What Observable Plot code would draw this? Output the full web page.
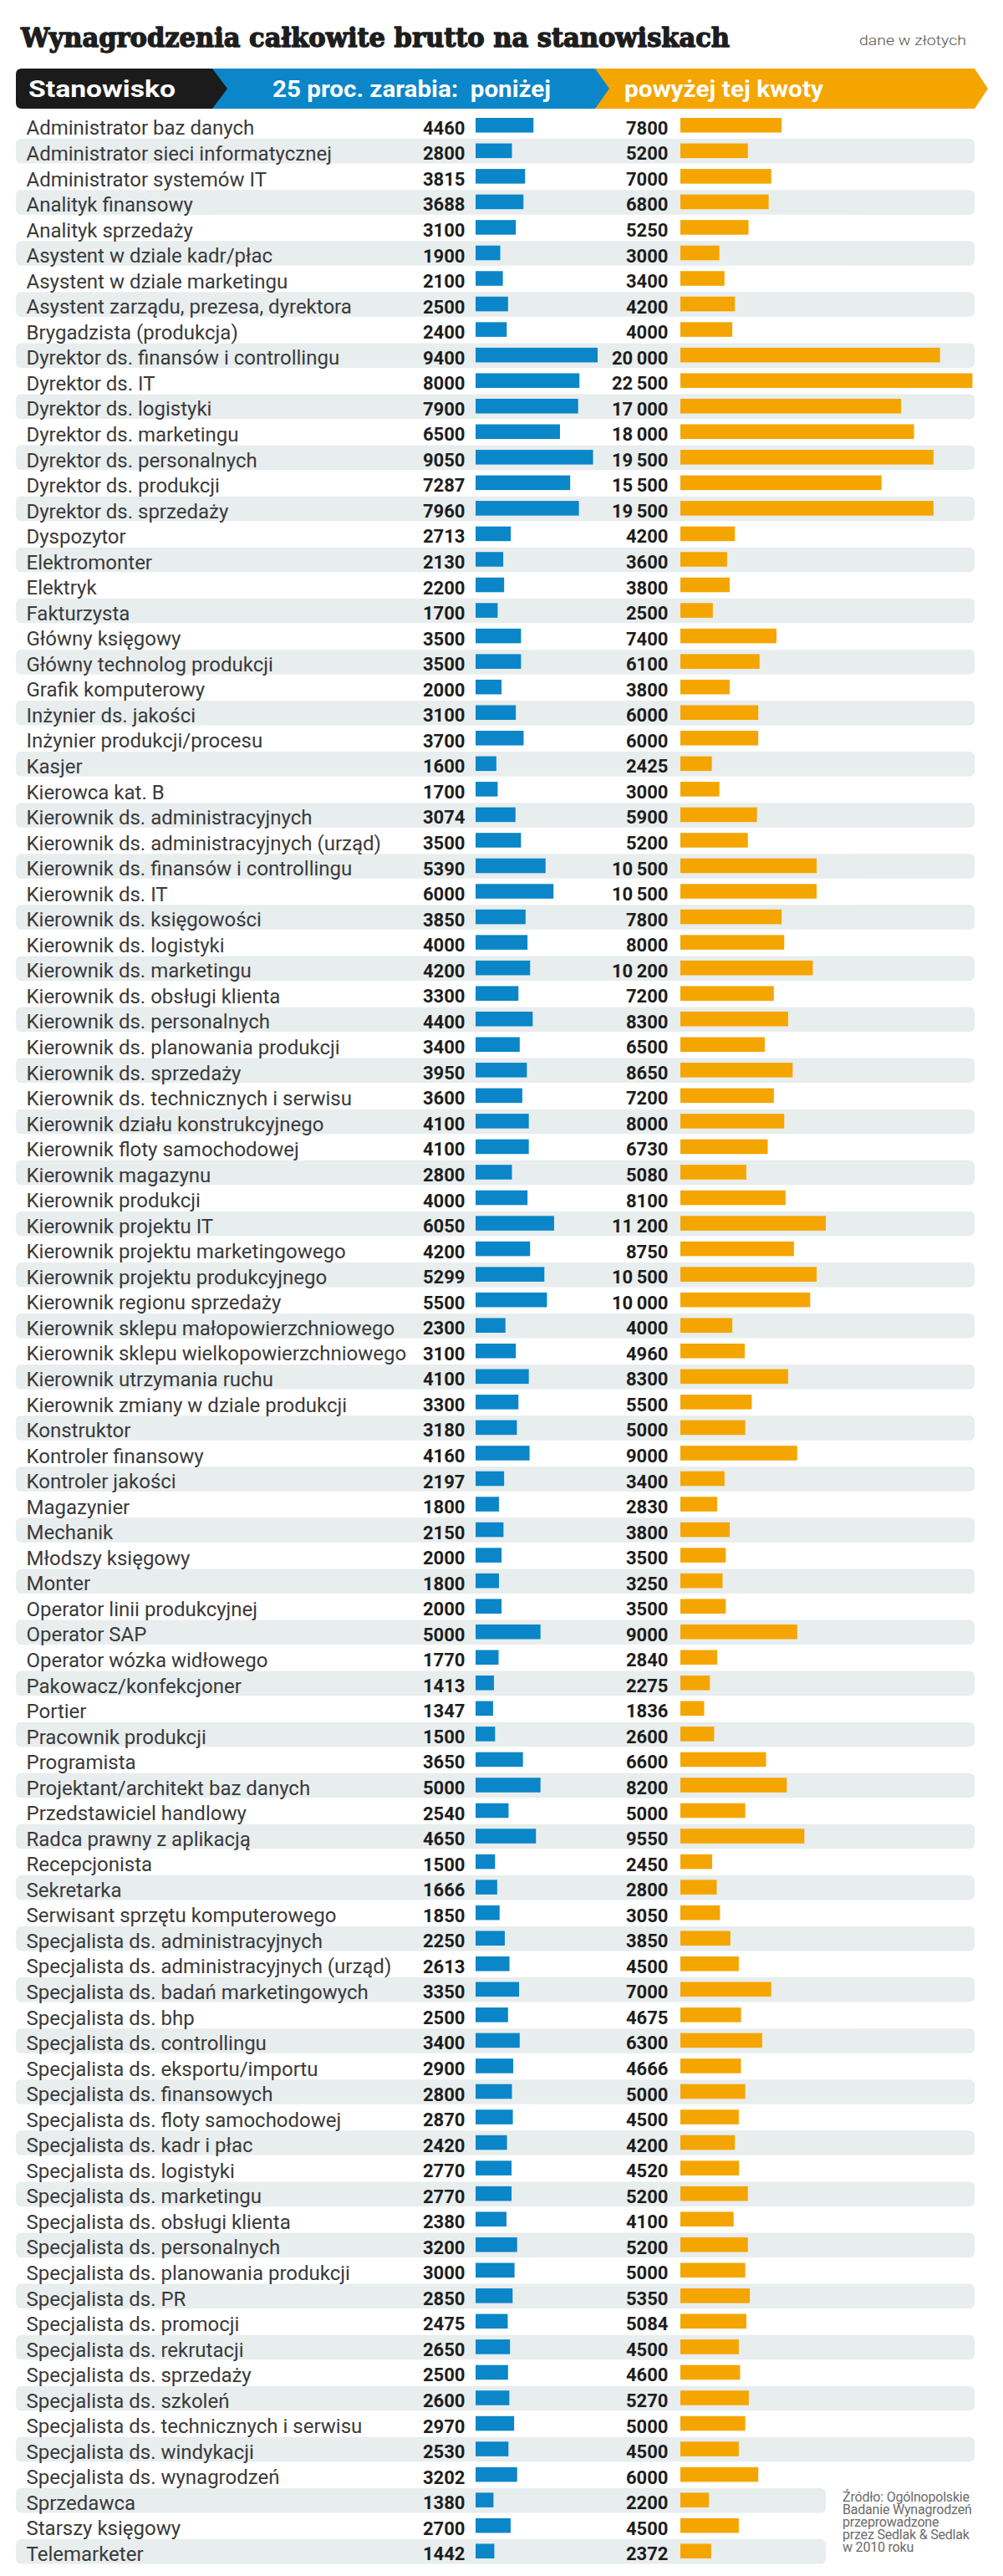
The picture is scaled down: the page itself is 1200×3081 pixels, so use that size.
<!DOCTYPE html>
<html>
<head>
<meta charset="utf-8">
<script src="https://cdn.jsdelivr.net/npm/d3@7"></script>
<script src="https://cdn.jsdelivr.net/npm/@observablehq/plot@0.6"></script>
<style>
  html, body { margin: 0; padding: 0; background: #fff; }
  #page { position: relative; width: 1200px; height: 3081px; overflow: hidden; }
  #head { position: absolute; left: 0; top: 0; }
  #chart { position: absolute; left: 0; top: 135px; }
  #src { position: absolute; left: 1008px; top: 2979px; font-family: Roboto, sans-serif; font-size: 16px; line-height: 15px; color: #6b6b6b; white-space: nowrap; letter-spacing: -0.2px; }
</style>
</head>
<body>
<div id="page">
  <div id="head"></div>
  <div id="chart"></div>
  <div id="src"></div>
</div>
<script>
// ---- data ----
const title = "Wynagrodzenia całkowite brutto na stanowiskach";
const unitNote = "dane w złotych";
const columnHeads = ["Stanowisko", "25 proc. zarabia:  poniżej", "powyżej tej kwoty"];
const sourceLines = ["Źródło: Ogólnopolskie", "Badanie Wynagrodzeń", "przeprowadzone", "przez Sedlak & Sedlak", "w 2010 roku"];

const names = [
  "Administrator baz danych",
  "Administrator sieci informatycznej",
  "Administrator systemów IT",
  "Analityk finansowy",
  "Analityk sprzedaży",
  "Asystent w dziale kadr/płac",
  "Asystent w dziale marketingu",
  "Asystent zarządu, prezesa, dyrektora",
  "Brygadzista (produkcja)",
  "Dyrektor ds. finansów i controllingu",
  "Dyrektor ds. IT",
  "Dyrektor ds. logistyki",
  "Dyrektor ds. marketingu",
  "Dyrektor ds. personalnych",
  "Dyrektor ds. produkcji",
  "Dyrektor ds. sprzedaży",
  "Dyspozytor",
  "Elektromonter",
  "Elektryk",
  "Fakturzysta",
  "Główny księgowy",
  "Główny technolog produkcji",
  "Grafik komputerowy",
  "Inżynier ds. jakości",
  "Inżynier produkcji/procesu",
  "Kasjer",
  "Kierowca kat. B",
  "Kierownik ds. administracyjnych",
  "Kierownik ds. administracyjnych (urząd)",
  "Kierownik ds. finansów i controllingu",
  "Kierownik ds. IT",
  "Kierownik ds. księgowości",
  "Kierownik ds. logistyki",
  "Kierownik ds. marketingu",
  "Kierownik ds. obsługi klienta",
  "Kierownik ds. personalnych",
  "Kierownik ds. planowania produkcji",
  "Kierownik ds. sprzedaży",
  "Kierownik ds. technicznych i serwisu",
  "Kierownik działu konstrukcyjnego",
  "Kierownik floty samochodowej",
  "Kierownik magazynu",
  "Kierownik produkcji",
  "Kierownik projektu IT",
  "Kierownik projektu marketingowego",
  "Kierownik projektu produkcyjnego",
  "Kierownik regionu sprzedaży",
  "Kierownik sklepu małopowierzchniowego",
  "Kierownik sklepu wielkopowierzchniowego",
  "Kierownik utrzymania ruchu",
  "Kierownik zmiany w dziale produkcji",
  "Konstruktor",
  "Kontroler finansowy",
  "Kontroler jakości",
  "Magazynier",
  "Mechanik",
  "Młodszy księgowy",
  "Monter",
  "Operator linii produkcyjnej",
  "Operator SAP",
  "Operator wózka widłowego",
  "Pakowacz/konfekcjoner",
  "Portier",
  "Pracownik produkcji",
  "Programista",
  "Projektant/architekt baz danych",
  "Przedstawiciel handlowy",
  "Radca prawny z aplikacją",
  "Recepcjonista",
  "Sekretarka",
  "Serwisant sprzętu komputerowego",
  "Specjalista ds. administracyjnych",
  "Specjalista ds. administracyjnych (urząd)",
  "Specjalista ds. badań marketingowych",
  "Specjalista ds. bhp",
  "Specjalista ds. controllingu",
  "Specjalista ds. eksportu/importu",
  "Specjalista ds. finansowych",
  "Specjalista ds. floty samochodowej",
  "Specjalista ds. kadr i płac",
  "Specjalista ds. logistyki",
  "Specjalista ds. marketingu",
  "Specjalista ds. obsługi klienta",
  "Specjalista ds. personalnych",
  "Specjalista ds. planowania produkcji",
  "Specjalista ds. PR",
  "Specjalista ds. promocji",
  "Specjalista ds. rekrutacji",
  "Specjalista ds. sprzedaży",
  "Specjalista ds. szkoleń",
  "Specjalista ds. technicznych i serwisu",
  "Specjalista ds. windykacji",
  "Specjalista ds. wynagrodzeń",
  "Sprzedawca",
  "Starszy księgowy",
  "Telemarketer"
];

// 25 proc. zarabia poniżej (lower quartile)
const below = [
  4460, 2800, 3815, 3688, 3100, 1900, 2100, 2500, 2400,
  9400, 8000, 7900, 6500, 9050, 7287, 7960,
  2713, 2130, 2200, 1700, 3500, 3500, 2000, 3100, 3700, 1600, 1700,
  3074, 3500, 5390, 6000, 3850, 4000, 4200, 3300, 4400, 3400, 3950, 3600, 4100, 4100,
  2800, 4000, 6050, 4200, 5299, 5500, 2300, 3100, 4100, 3300,
  3180, 4160, 2197, 1800, 2150, 2000, 1800, 2000, 5000, 1770, 1413, 1347, 1500,
  3650, 5000, 2540, 4650, 1500, 1666, 1850,
  2250, 2613, 3350, 2500, 3400, 2900, 2800, 2870, 2420, 2770, 2770, 2380, 3200, 3000,
  2850, 2475, 2650, 2500, 2600, 2970, 2530, 3202,
  1380, 2700, 1442
];

// 25 proc. zarabia powyżej (upper quartile)
const above = [
  7800, 5200, 7000, 6800, 5250, 3000, 3400, 4200, 4000,
  20000, 22500, 17000, 18000, 19500, 15500, 19500,
  4200, 3600, 3800, 2500, 7400, 6100, 3800, 6000, 6000, 2425, 3000,
  5900, 5200, 10500, 10500, 7800, 8000, 10200, 7200, 8300, 6500, 8650, 7200, 8000, 6730,
  5080, 8100, 11200, 8750, 10500, 10000, 4000, 4960, 8300, 5500,
  5000, 9000, 3400, 2830, 3800, 3500, 3250, 3500, 9000, 2840, 2275, 1836, 2600,
  6600, 8200, 5000, 9550, 2450, 2800, 3050,
  3850, 4500, 7000, 4675, 6300, 4666, 5000, 4500, 4200, 4520, 5200, 4100, 5200, 5000,
  5350, 5084, 4500, 4600, 5270, 5000, 4500, 6000,
  2200, 4500, 2372
];

// ---- styles ----
const BLUE = "#0b86c8";
const ORANGE = "#f5a500";
const STRIPE = "#e8edee";
const DARK = "#1d1d1d";

const data = names.map((name, i) => ({name, below: below[i], above: above[i], i}));
const fmt = v => v >= 10000 ? String(v).replace(/\B(?=(\d{3})+(?!\d))/g, "\u2009") : String(v);

// ---- header ----
const head = d3.select("#head").append("svg")
  .attr("width", 1200).attr("height", 135)
  .attr("font-family", "Roboto, sans-serif");

head.append("text")
  .attr("x", 25).attr("y", 56)
  .attr("font-family", "'DejaVu Serif Condensed', 'DejaVu Serif', serif")
  .attr("font-weight", "bold")
  .attr("font-size", 32)
  .attr("fill", DARK)
  .attr("stroke", DARK)
  .attr("stroke-width", 1.3)
  .attr("stroke-linejoin", "round")
  .attr("textLength", 848).attr("lengthAdjust", "spacingAndGlyphs")
  .text(title);

head.append("text")
  .attr("x", 1156).attr("y", 54)
  .attr("text-anchor", "end")
  .attr("font-size", 17)
  .attr("font-weight", 300)
  .attr("fill", "#555")
  .attr("textLength", 128).attr("lengthAdjust", "spacingAndGlyphs")
  .text(unitNote);

const bandTop = 82, bandBot = 130, bandMid = (bandTop + bandBot) / 2;
const chevron = (x0, x1, tip, rounded) => {
  if (rounded) {
    const r = 7;
    return `M${x0 + r},${bandTop} L${x1},${bandTop} L${tip},${bandMid} L${x1},${bandBot} L${x0 + r},${bandBot} Q${x0},${bandBot} ${x0},${bandBot - r} L${x0},${bandTop + r} Q${x0},${bandTop} ${x0 + r},${bandTop} Z`;
  }
  return `M${x0},${bandTop} L${x1},${bandTop} L${tip},${bandMid} L${x1},${bandBot} L${x0},${bandBot} Z`;
};
head.append("path").attr("d", chevron(700, 1166, 1182, false)).attr("fill", ORANGE);
head.append("path").attr("d", chevron(250, 712, 729, false)).attr("fill", BLUE);
head.append("path").attr("d", chevron(19, 254, 272, true)).attr("fill", "#1b1b1b");

const headPos = [[34, 176], [326, 333], [747, 238]];
columnHeads.forEach((t, k) => {
  head.append("text")
    .attr("x", headPos[k][0]).attr("y", 116)
    .attr("font-size", 28).attr("font-weight", "bold")
    .attr("fill", "#fff")
    .attr("xml:space", "preserve")
    .style("white-space", "pre")
    .attr("textLength", headPos[k][1]).attr("lengthAdjust", "spacingAndGlyphs")
    .text(t);
});

// ---- chart ----
const PXPERZL = 0.01553;
const X0 = 569;           // start of the lower-quartile bars
const SHIFT = 245;        // offset of the upper-quartile column
const chart = Plot.plot({
  width: 1200,
  height: 2932,
  marginTop: 0, marginBottom: 0, marginLeft: 19, marginRight: 34,
  x: {domain: [0, 22500], range: [X0, X0 + 22500 * PXPERZL], axis: null},
  y: {domain: names, padding: 0, axis: null},
  style: {fontFamily: "Roboto, sans-serif", background: "transparent", overflow: "visible"},
  marks: [
    Plot.cell(data.filter(d => d.i % 2 === 1 && d.i < 93), {y: "name", fill: STRIPE, rx: 6, insetTop: 0.5, insetBottom: 0.5}),
    Plot.cell(data.filter(d => d.i % 2 === 1 && d.i >= 93), {y: "name", fill: STRIPE, rx: 6, insetTop: 0.5, insetBottom: 0.5, insetRight: 178}),
    Plot.barX(data, {y: "name", x: "below", fill: BLUE, insetTop: 6, insetBottom: 7}),
    Plot.barX(data, {y: "name", x: "above", fill: ORANGE, insetTop: 6, insetBottom: 7, dx: SHIFT}),
    Plot.text(data, {y: "name", text: "name", frameAnchor: "left", textAnchor: "start", dx: 12, dy: 3, fontSize: 24, fill: "#3a3a3a"}),
    Plot.text(data, {y: "name", x: 0, text: d => fmt(d.below), textAnchor: "end", dx: -13, dy: 3, fontSize: 22, fontWeight: "bold", fill: DARK}),
    Plot.text(data, {y: "name", x: 0, text: d => fmt(d.above), textAnchor: "end", dx: SHIFT - 15, dy: 3, fontSize: 22, fontWeight: "bold", fill: DARK})
  ]
});
document.getElementById("chart").appendChild(chart);

// ---- source ----
document.getElementById("src").innerHTML = sourceLines.map(s => s.replace(/&/g, "&amp;")).join("<br>");
</script>
</body>
</html>
